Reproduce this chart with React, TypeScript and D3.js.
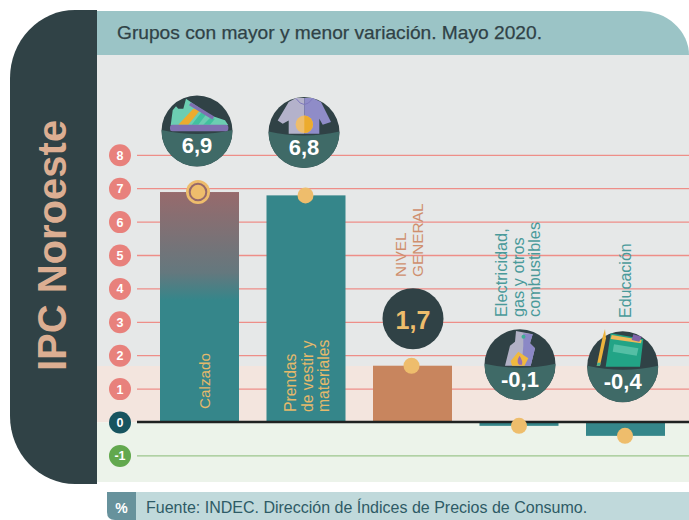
import React from "react";
import * as d3 from "d3";

const categories = ["Calzado", "Prendas de vestir y materiales", "NIVEL GENERAL", "Electricidad, gas y otros combustibles", "Educación"];
const values = [6.9, 6.8, 1.7, -0.1, -0.4];
const valueLabels = ["6,9", "6,8", "1,7", "-0,1", "-0,4"];
const ticks = [8, 7, 6, 5, 4, 3, 2, 1, 0, -1];
const labelLines = [["Calzado"], ["Prendas", "de vestir y", "materiales"], ["NIVEL", "GENERAL"], ["Electricidad,", "gas y otros", "combustibles"], ["Educación"]];
const title = "Grupos con mayor y menor variación. Mayo 2020.";
const sideTitle = "IPC Noroeste";
const source = "Fuente: INDEC. Dirección de Índices de Precios de Consumo.";

const FONT = "'Liberation Sans', Arial, sans-serif";
const TEAL = "#35868a";
const DARK = "#304246";
const LOW = "#3f6a67";
const GOLD = "#eebd6c";

const y = d3.scaleLinear().domain([-1, 8]).range([455.9, 155.3]);
const x = d3.scaleBand<string>().domain(categories).range([160, 665]).paddingInner(0.2582).paddingOuter(0);

const barColors = ["url(#calz)", TEAL, "#c8855e", TEAL, TEAL];
const labelColors = ["#e5b96b", "#e5b96b", "#cf8f6d", "#4a9a9a", "#4a9a9a"];
// rotated label: first line x, bottom y, font size
const labelPos = [[210, 409], [296, 412], [406, 277], [507, 317], [631, 318]];
const labelSizes = [15.3, 15.7, 15.4, 16.3, 16];
const labelGap = 16.6;
const bubbles = [
  { cx: 197, cy: 131, r: 35.5 },
  { cx: 304, cy: 132.5, r: 35.5 },
  { cx: 413, cy: 318.7, r: 30.5 },
  { cx: 520, cy: 364.7, r: 35.5 },
  { cx: 622.7, cy: 366.7, r: 35.5 },
];
const dotX = [198, 305.5, 411.5, 519, 625];

function Shoe() {
  return (
    <g transform="translate(197,131)">
      <path d="M-26.3,-5.7 L-24.3,-20.7 L-21,-24.7 L-18.7,-22.3 L-13.7,-22.3 L-11,-32.3 L-3.7,-27.3 L13,-15.7 L28,-10.7 L31.3,-5.7 Z" fill="#6ccdb2" />
      <path d="M-18.7,-6.3 L-3.7,-22.3 L3,-20.7 L-8.7,-6.3 Z" fill="#ecab2e" />
      <path d="M-5.3,-6.3 L4.7,-19 L9.7,-17.3 L1.3,-6.3 Z" fill="#42c09f" />
      <path d="M6.3,-6.3 L13,-13 L18,-12.3 L13,-6.3 Z" fill="#42c09f" />
      <path d="M-7,-27.3 L16.3,-13" stroke="#7f6fb0" strokeWidth={3.6} fill="none" />
      <rect x="-27" y="-6.3" width="58.3" height="6.6" rx="2.5" fill="#7f6fb0" />
    </g>
  );
}
function Shirt() {
  return (
    <g transform="translate(304,132.5)">
      <path d="M0.3,-34.5 L-8,-34.5 L-15.3,-30.5 L-26.3,-12 L-21.3,-8.8 L-15.3,-12 L-15.3,1.2 L0.3,1.2 Z" fill="#b4b2cb" />
      <path d="M0.3,-34.5 L8.7,-34.5 L17,-30.5 L27,-10.5 L18.7,-7.8 L15.3,-13.8 L15.3,1.2 L0.3,1.2 Z" fill="#8f8cc8" />
      <path d="M-8,-34 Q0.3,-22 8.7,-34" fill="none" stroke="#7f78bd" strokeWidth={1} />
      <circle cx="0.3" cy="-8.2" r="8.7" fill={GOLD} />
      <path d="M0.3,-16.9 A8.7,8.7 0 0 1 0.3,0.5 Z" fill="#ecab2e" />
    </g>
  );
}
function Gas() {
  return (
    <g transform="translate(520,364.7)">
      <path d="M-4,-33.7 L12.7,-30.4 L10,-21.4 L15,-16.4 L10.7,1 L-15,1 L-10,-19 L-5,-23 Z" fill="#b2b1c6" />
      <path d="M3.3,-31.5 L12.7,-30.4 L10,-21.4 L15,-16.4 L10.7,1 L1.7,1 L3.3,-19 Z" fill="#8b88c6" />
      <path d="M-1.7,-13 L8.3,-6.4 L4.5,1 L-8,1 L-9.3,-3.7 Z" fill="#f0b93e" />
      <path d="M-1,0 Q-4,-3 -0.5,-9 Q3,-4 2,0 Z" fill="#9a6fb0" />
      <circle cx="3.5" cy="-28" r="2" fill="#3fae96" />
    </g>
  );
}
function Book() {
  return (
    <g transform="translate(622.7,366.7)">
      <path d="M-12,-33.4 L20.6,-27.7 L17.3,0 L-17,0 Z" fill="#22a486" />
      <path d="M-11,-31.7 L19,-26.7 L18.3,-23.4 L-12,-27.7 Z" fill="#efb858" />
      <path d="M-8.7,-22.4 L15.7,-18.4 L14,-11 L-10,-15 Z" fill="#54bfa5" />
      <path d="M10.6,-32.4 L19,-30 L16.6,-25 L9,-26.7 Z" fill="#7f62a8" />
      <path d="M-17.7,-37.7 L-16.7,-28.4 L-22.7,-1 L-26,-1 L-20,-30 Z" fill="#ecb33c" />
      <path d="M-26,-1 L-25.3,-4 L-22,-4 L-22.7,-1 Z" fill="#3fae96" />
    </g>
  );
}
const icons = [<Shoe key="s" />, <Shirt key="t" />, null, <Gas key="g" />, <Book key="b" />];

export default function App() {
  const zero = y(0);
  return (
    <svg width={689} height={520} viewBox="0 0 689 520" style={{ position: "absolute", left: 0, top: 0, fontFamily: FONT }}>
      <defs>
        <linearGradient id="calz" x1="0" y1="0" x2="0" y2="1">
          <stop offset="0" stopColor="#976a6c" />
          <stop offset="0.35" stopColor="#64787e" />
          <stop offset="0.47" stopColor={TEAL} />
          <stop offset="1" stopColor={TEAL} />
        </linearGradient>
      </defs>
      <rect width={689} height={520} fill="#fff" />
      <rect x={97} y={55} width={592} height={311} fill="#e6e8e8" />
      <rect x={97} y={366} width={592} height={zero - 366} fill="#f3e5de" />
      <rect x={97} y={zero} width={592} height={482 - zero} fill="#ecf3ea" />
      <path d="M97,11 H640 A49,44 0 0 1 689,55 H97 Z" fill="#9bc4c6" />
      <path d="M97,10 V484 H75 A65,68 0 0 1 10,416 V78 A65,68 0 0 1 75,10 Z" fill={DARK} />
      <text x={117} y={39} fontSize={19} fontWeight={400} fill={DARK} stroke={DARK} strokeWidth={0.25} textLength={425} lengthAdjust="spacingAndGlyphs">{title}</text>
      <text transform="translate(66,371) rotate(-90)" fontSize={40} fontWeight={700} fill="#dcae92">{sideTitle}</text>

      {ticks.filter((t) => t !== 0).map((t) => (
        <line key={t} x1={137} x2={689} y1={y(t)} y2={y(t)} stroke={t > 0 ? "#ee8e88" : "#9cc68c"} strokeWidth={1.3} />
      ))}
      {categories.map((c, i) => {
        const top = Math.min(y(values[i]), zero);
        const h = Math.abs(y(values[i]) - zero);
        return <rect key={c} x={x(c)} y={top} width={x.bandwidth()} height={h} fill={barColors[i]} />;
      })}
      <line x1={137} x2={689} y1={zero - 0.5} y2={zero - 0.5} stroke="#1f2222" strokeWidth={2.4} />
      {ticks.map((t) => (
        <g key={t}>
          <circle cx={120} cy={y(t)} r={11} fill={t > 0 ? "#e8817c" : t === 0 ? "#17545f" : "#62a84e"} />
          <text x={120} y={y(t) + 4.5} textAnchor="middle" fontSize={12.5} fontWeight={700} fill="#fff">{t}</text>
        </g>
      ))}
      {labelLines.map((lines, i) =>
        lines.map((l, j) => (
          <text key={l} transform={`translate(${labelPos[i][0] + j * labelGap},${labelPos[i][1]}) rotate(-90)`} fontSize={labelSizes[i]} fill={labelColors[i]}>{l}</text>
        ))
      )}
      <circle cx={dotX[0]} cy={y(values[0])} r={12} fill={GOLD} />
      <circle cx={dotX[0]} cy={y(values[0])} r={8.3} fill={GOLD} stroke="#96696b" strokeWidth={2} />
      {values.slice(1).map((v, i) => (
        <circle key={i} cx={dotX[i + 1]} cy={y(v)} r={8} fill={GOLD} />
      ))}
      {bubbles.map((b, i) => {
        const split = i === 2;
        const clipId = `clip${i}`;
        return (
          <g key={i}>
            <clipPath id={clipId}><circle cx={b.cx} cy={b.cy} r={b.r} /></clipPath>
            <circle cx={b.cx} cy={b.cy} r={b.r} fill={DARK} />
            {!split && (
              <path clipPath={`url(#${clipId})`} d={`M${b.cx - b.r},${b.cy - 1} Q${b.cx},${b.cy + 7} ${b.cx + b.r},${b.cy - 1} V${b.cy + b.r} H${b.cx - b.r} Z`} fill={LOW} />
            )}
            {icons[i]}
            <text x={b.cx} y={split ? b.cy + 10 : b.cy + 22} textAnchor="middle" fontSize={split ? 25 : 22} fontWeight={700} fill={split ? GOLD : "#fff"}>{valueLabels[i]}</text>
          </g>
        );
      })}
      <path d="M107,492 H136 V520 H115 Q107,520 107,512 Z" fill="#67929c" />
      <rect x={136} y={492} width={553} height={28} fill="#c0d9db" />
      <text x={121.5} y={513} textAnchor="middle" fontSize={14} fontWeight={700} fill="#fff">%</text>
      <text x={146} y={513} fontSize={16} fill="#2e5b66">{source}</text>
    </svg>
  );
}
